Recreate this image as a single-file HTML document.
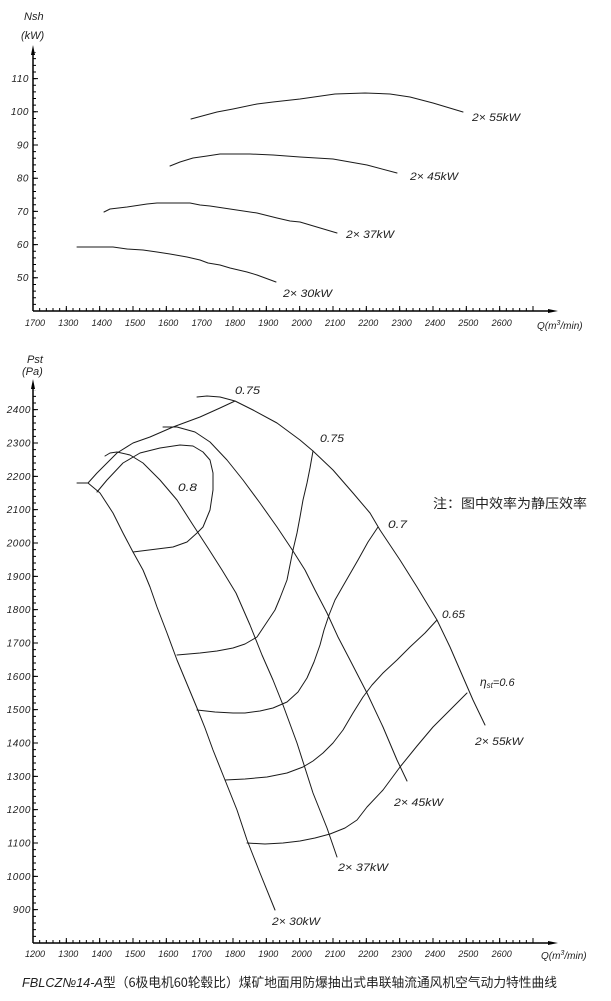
<!DOCTYPE html>
<html><head><meta charset="utf-8">
<style>
html,body{margin:0;padding:0;background:#fff;}
svg{display:block;}
text{font-family:"Liberation Sans","Noto Sans CJK SC",sans-serif;font-style:italic;fill:#222;}
.cn{font-style:normal;font-family:"Noto Sans CJK SC","WenQuanYi Zen Hei",sans-serif;}
.c{fill:none;stroke:#1a1a1a;stroke-width:1;stroke-linejoin:round;stroke-linecap:round;}
.ax{stroke:#000;stroke-width:1.5;}
.yl{font-size:10px;text-anchor:end;letter-spacing:0.5px;}
.xl{font-size:9px;text-anchor:middle;}
.lb{font-size:11px;}
</style></head>
<body>
<svg width="611" height="1001" viewBox="0 0 611 1001" xmlns="http://www.w3.org/2000/svg">
<rect width="611" height="1001" fill="#fff"/>

<!-- ================= TOP CHART ================= -->
<text x="24" y="20" font-size="11">Nsh</text>
<text x="21" y="39" font-size="11">(kW)</text>

<line class="ax" x1="33" y1="311" x2="33" y2="52"/>
<polygon points="33,45 31,55 35,55" fill="#000"/>
<line class="ax" x1="33" y1="311" x2="551" y2="311"/>
<polygon points="558,311 548,309 548,313" fill="#000"/>
<line x1="32.5" y1="309.5" x2="534" y2="309.5" stroke="#000" stroke-width="3" stroke-dasharray="1 5.6667"/>
<line x1="32.5" y1="308.5" x2="534" y2="308.5" stroke="#000" stroke-width="5" stroke-dasharray="1 32.3333"/>
<line x1="34.5" y1="311.5" x2="34.5" y2="52" stroke="#000" stroke-width="3" stroke-dasharray="1 5.64"/>
<line x1="35.5" y1="311.5" x2="35.5" y2="52" stroke="#000" stroke-width="5" stroke-dasharray="1 32.2"/>

<g class="yl">
<text x="29" y="82">110</text>
<text x="29" y="115">100</text>
<text x="29" y="148.5">90</text>
<text x="29" y="181.5">80</text>
<text x="29" y="215">70</text>
<text x="29" y="248">60</text>
<text x="29" y="281">50</text>
</g>
<g class="xl">
<text x="35" y="326">1700</text>
<text x="68.3" y="326">1300</text>
<text x="101.7" y="326">1400</text>
<text x="135" y="326">1500</text>
<text x="168.3" y="326">1600</text>
<text x="201.7" y="326">1700</text>
<text x="235" y="326">1800</text>
<text x="268.3" y="326">1900</text>
<text x="301.7" y="326">2000</text>
<text x="335" y="326">2100</text>
<text x="368.3" y="326">2200</text>
<text x="401.7" y="326">2300</text>
<text x="435" y="326">2400</text>
<text x="468.3" y="326">2500</text>
<text x="501.7" y="326">2600</text>
</g>
<text x="537" y="329" font-size="10">Q(m<tspan font-size="7" dy="-4">3</tspan><tspan dy="4">/min)</tspan></text>

<polyline class="c" points="191,119 217,112 233,109 257,104 273,102 300,99 335,94 365,93 390,94 410,97 433,103 463,112"/>
<polyline class="c" points="170,166 180,162 193,158 207,156 220,154 250,154 273,155 300,157 333,159 367,165 397,173"/>
<polyline class="c" points="104,212 110,209 127,207 147,204 157,203 190,203 200,205 210,206 230,209 257,213 277,218 290,221 300,222 337,233"/>
<polyline class="c" points="77,247 113,247 127,249 143,250 157,252 170,254 187,257 200,260 208,263 220,265 230,268 247,272 257,275 276,282"/>

<text class="lb" x="472" y="121" textLength="48" lengthAdjust="spacingAndGlyphs">2× 55kW</text>
<text class="lb" x="410" y="180" textLength="48" lengthAdjust="spacingAndGlyphs">2× 45kW</text>
<text class="lb" x="346" y="238" textLength="48" lengthAdjust="spacingAndGlyphs">2× 37kW</text>
<text class="lb" x="283" y="297" textLength="49" lengthAdjust="spacingAndGlyphs">2× 30kW</text>

<!-- ================= BOTTOM CHART ================= -->
<text x="27" y="363" font-size="11">Pst</text>
<text x="22" y="375" font-size="11">(Pa)</text>

<line class="ax" x1="33" y1="943" x2="33" y2="386"/>
<polygon points="33,379 31,389 35,389" fill="#000"/>
<line class="ax" x1="33" y1="943" x2="551" y2="943"/>
<polygon points="558,943 548,941 548,945" fill="#000"/>
<line x1="32.5" y1="941.5" x2="534" y2="941.5" stroke="#000" stroke-width="3" stroke-dasharray="1 5.6667"/>
<line x1="32.5" y1="940.5" x2="534" y2="940.5" stroke="#000" stroke-width="5" stroke-dasharray="1 32.3333"/>
<line x1="34.5" y1="943.5" x2="34.5" y2="390" stroke="#000" stroke-width="3" stroke-dasharray="1 5.6667"/>
<line x1="35.5" y1="943.5" x2="35.5" y2="390" stroke="#000" stroke-width="5" stroke-dasharray="1 32.3333"/>

<g class="yl">
<text x="31" y="413">2400</text>
<text x="31" y="446.5">2300</text>
<text x="31" y="480">2200</text>
<text x="31" y="513">2100</text>
<text x="31" y="546.5">2000</text>
<text x="31" y="580">1900</text>
<text x="31" y="613">1800</text>
<text x="31" y="646.5">1700</text>
<text x="31" y="680">1600</text>
<text x="31" y="713">1500</text>
<text x="31" y="746.5">1400</text>
<text x="31" y="780">1300</text>
<text x="31" y="813">1200</text>
<text x="31" y="846.5">1100</text>
<text x="31" y="880">1000</text>
<text x="31" y="913">900</text>
</g>
<g class="xl">
<text x="35" y="957">1200</text>
<text x="68.3" y="957">1300</text>
<text x="101.7" y="957">1400</text>
<text x="135" y="957">1500</text>
<text x="168.3" y="957">1600</text>
<text x="201.7" y="957">1700</text>
<text x="235" y="957">1800</text>
<text x="268.3" y="957">1900</text>
<text x="301.7" y="957">2000</text>
<text x="335" y="957">2100</text>
<text x="368.3" y="957">2200</text>
<text x="401.7" y="957">2300</text>
<text x="435" y="957">2400</text>
<text x="468.3" y="957">2500</text>
<text x="501.7" y="957">2600</text>
</g>
<text x="541" y="959" font-size="10">Q(m<tspan font-size="7" dy="-4">3</tspan><tspan dy="4">/min)</tspan></text>

<polyline class="c" points="77,483 88,483 100,493 113,513 123,533 133,552 143,570 150,587 157,607 167,633 177,660 187,684 197,708 205,728 213,750 225,780 237,810 247,840 260,873 275,910"/>
<polyline class="c" points="105,456 110,453 117,452 130,455 143,463 160,480 177,500 193,525 208,548 222,570 236,593 250,625 262,655 273,680 283,705 297,743 313,793 327,828 337,857"/>
<polyline class="c" points="163,427 177,427 195,432 210,442 227,460 243,480 260,503 277,527 293,551 305,570 315,590 327,613 338,637 350,660 367,693 383,727 397,760 407,781"/>
<polyline class="c" points="197,397 207,396 220,397 235,401 253,410 277,423 300,440 313,451 333,470 353,493 370,513 380,530 390,545 400,560 417,587 437,620 450,647 463,677 473,700 485,725"/>

<polyline class="c" points="88,483 97,473 107,463 117,453 133,443 150,437 173,427 200,417 220,408 235,401"/>
<polyline class="c" points="97,492 107,480 123,463 140,453 160,448 180,445 193,446 203,452 210,460 213,473 213,490 210,510 203,527 197,533 187,542 173,547 157,549 133,552"/>
<polyline class="c" points="313,451 310,468 307,483 303,500 300,517 297,533 293,550 287,580 280,598 275,610 265,625 257,637 245,644 233,648 217,651 200,653 177,655"/>
<polyline class="c" points="378,527 368,542 358,560 343,586 335,600 329,615 324,630 320,645 314,662 307,678 298,692 287,702 273,708 260,711 245,713 233,713 215,712 197,710"/>
<polyline class="c" points="437,620 425,633 410,647 397,660 383,673 372,685 363,697 353,713 343,730 333,743 323,753 313,761 303,767 287,773 267,777 245,779 225,780"/>
<polyline class="c" points="467,693 450,710 433,727 417,746 400,767 383,790 367,807 357,820 345,828 330,834 315,838 300,841 283,843 265,844 247,843"/>

<text class="lb" x="235" y="394" textLength="25" lengthAdjust="spacingAndGlyphs">0.75</text>
<text class="lb" x="320" y="442" textLength="24" lengthAdjust="spacingAndGlyphs">0.75</text>
<text class="lb" x="178" y="491" textLength="19" lengthAdjust="spacingAndGlyphs">0.8</text>
<text class="lb" x="388" y="528" textLength="19" lengthAdjust="spacingAndGlyphs">0.7</text>
<text class="lb" x="442" y="618" textLength="23" lengthAdjust="spacingAndGlyphs">0.65</text>
<text x="480" y="686" font-size="12">η<tspan font-size="8" dy="2">st</tspan><tspan font-size="11" dy="-2">=0.6</tspan></text>

<text class="lb" x="475" y="745" textLength="48" lengthAdjust="spacingAndGlyphs">2× 55kW</text>
<text class="lb" x="394" y="806" textLength="49" lengthAdjust="spacingAndGlyphs">2× 45kW</text>
<text class="lb" x="338" y="871" textLength="50" lengthAdjust="spacingAndGlyphs">2× 37kW</text>
<text class="lb" x="272" y="925" textLength="48" lengthAdjust="spacingAndGlyphs">2× 30kW</text>

<text class="cn" x="433" y="508" font-size="13" textLength="154" lengthAdjust="spacingAndGlyphs">注：图中效率为静压效率</text>

<text x="22" y="987" font-size="13" textLength="535" lengthAdjust="spacingAndGlyphs">FBLCZ№14-A<tspan class="cn">型（6极电机60轮毂比）煤矿地面用防爆抽出式串联轴流通风机空气动力特性曲线</tspan></text>
</svg>
</body></html>
